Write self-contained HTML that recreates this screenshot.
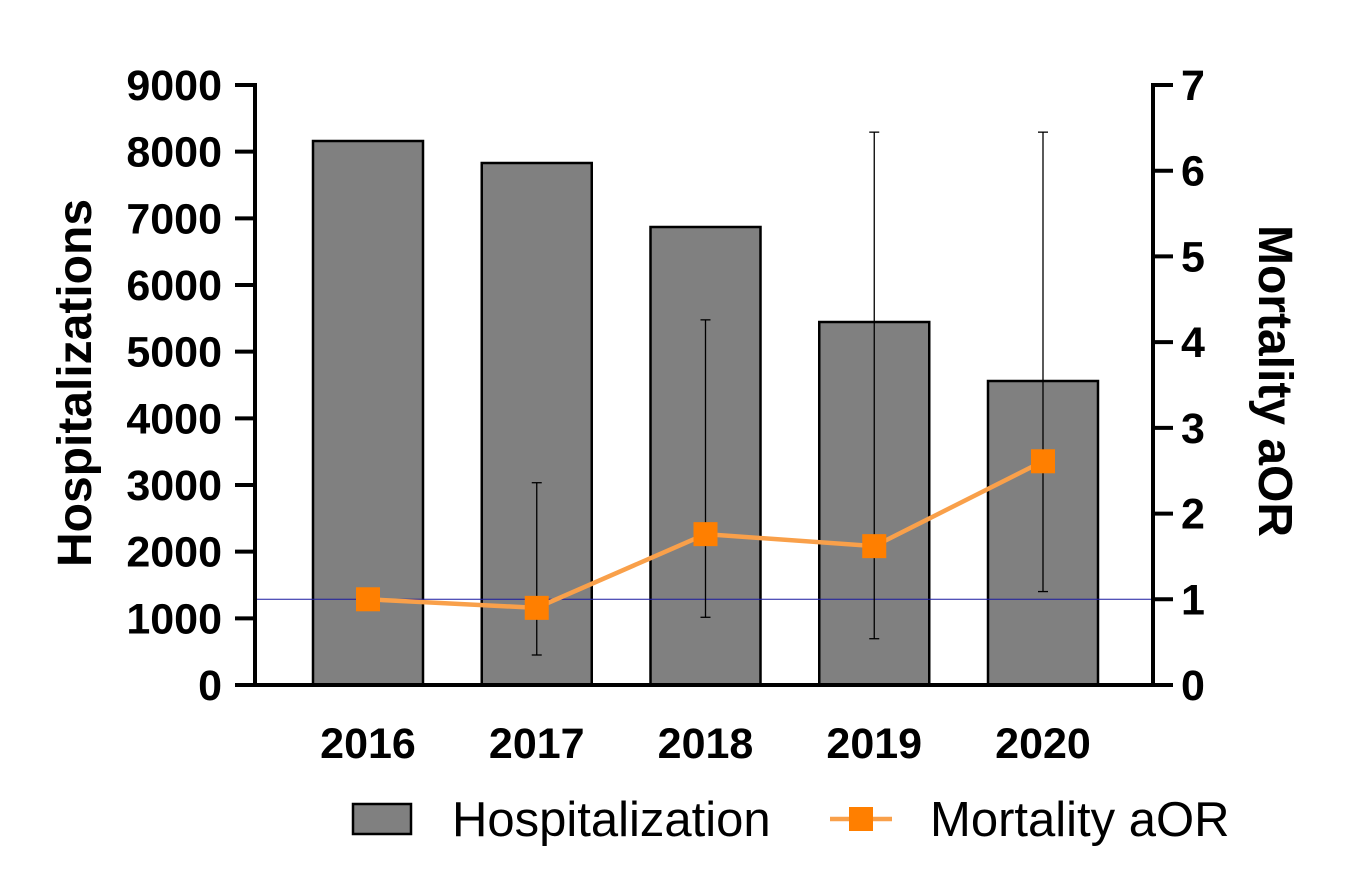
<!DOCTYPE html>
<html><head><meta charset="utf-8"><style>
body{margin:0;background:#fff;width:1350px;height:890px;overflow:hidden}
text{font-family:"Liberation Sans",Arial,sans-serif;fill:#000}
</style></head><body>
<svg id="chart" width="1350" height="890" xmlns="http://www.w3.org/2000/svg"></svg>
<script>
const categories=["2016","2017","2018","2019","2020"];
const hospitalizations=[8160,7830,6870,5445,4560];
const aor=[1.0,0.9,1.76,1.62,2.61];
const aorLow=[1.0,0.35,0.79,0.54,1.09];
const aorHigh=[1.0,2.36,4.26,6.45,6.45];
const leftTicks=[0,1000,2000,3000,4000,5000,6000,7000,8000,9000];
const rightTicks=[0,1,2,3,4,5,6,7];
const NS="http://www.w3.org/2000/svg";
const svg=document.getElementById('chart');
const X0=255,X1=1153,Y0=685,Y1=85;
const yL=v=>Y0-(v/9000)*(Y0-Y1);
const yR=v=>Y0-(v/7)*(Y0-Y1);
const xC=i=>368+i*168.75;
function mk(tag,attrs,parent){const e=document.createElementNS(NS,tag);for(const k in attrs)e.setAttribute(k,attrs[k]);(parent||svg).appendChild(e);return e;}
categories.forEach((c,i)=>{
 const b=mk('rect',{x:xC(i)-55,y:yL(hospitalizations[i]),width:110,height:Y0-yL(hospitalizations[i]),fill:'#808080',stroke:'#000','stroke-width':2.5});
 
 
 const t=mk('text',{x:xC(i),y:758,'text-anchor':'middle','font-size':43,'font-weight':'bold'});
 t.textContent=c;
 
 
});
const ref=mk('line',{x1:X0,x2:X1,y1:yR(1),y2:yR(1),stroke:'#1a1aa0','stroke-width':1});


categories.forEach((c,i)=>{
 if(aorHigh[i]===aorLow[i])return;
 const g=mk('g',{stroke:'#000','stroke-width':1.3});
 
 
 mk('line',{x1:xC(i),x2:xC(i),y1:yR(aorHigh[i]),y2:yR(aorLow[i])},g);
 mk('line',{x1:xC(i)-5,x2:xC(i)+5,y1:yR(aorHigh[i]),y2:yR(aorHigh[i])},g);
 mk('line',{x1:xC(i)-5,x2:xC(i)+5,y1:yR(aorLow[i]),y2:yR(aorLow[i])},g);
});
const pl=mk('polyline',{points:aor.map((v,i)=>xC(i)+','+yR(v)).join(' '),fill:'none',stroke:'#f9a04a','stroke-width':4.5});


categories.forEach((c,i)=>{
 const m=mk('rect',{x:xC(i)-12,y:yR(aor[i])-12,width:24,height:24,fill:'#ff7f00'});
 
 
});
const ax=mk('g',{stroke:'#000','stroke-width':4,fill:'none'});


mk('line',{x1:X0,x2:X0,y1:Y1-2,y2:Y0+2},ax);
mk('line',{x1:X1,x2:X1,y1:Y1-2,y2:Y0+2},ax);
mk('line',{x1:X0-2,x2:X1+2,y1:Y0,y2:Y0},ax);
leftTicks.forEach(v=>{
 mk('line',{x1:X0-20,x2:X0,y1:yL(v),y2:yL(v)},ax);
 const t=mk('text',{x:X0-33,y:yL(v)+15,'text-anchor':'end','font-size':43,'font-weight':'bold'});
 t.textContent=v;
 
 
});
rightTicks.forEach(v=>{
 mk('line',{x1:X1,x2:X1+20,y1:yR(v),y2:yR(v)},ax);
 const t=mk('text',{x:X1+28,y:yR(v)+15,'text-anchor':'start','font-size':43,'font-weight':'bold'});
 t.textContent=v;
 
 
});
</script>
<svg style="position:absolute;left:0;top:0" width="1350" height="890" xmlns="http://www.w3.org/2000/svg">
<text transform="translate(91,383) rotate(-90)" text-anchor="middle" font-size="48" font-weight="bold">Hospitalizations</text>
<text transform="translate(1259,381) rotate(90)" text-anchor="middle" font-size="48" font-weight="bold">Mortality aOR</text>
<g>
<rect x="353" y="804" width="58" height="30" fill="#808080" stroke="#000" stroke-width="2.5"/>
<text x="452" y="836" font-size="49">Hospitalization</text>
<line x1="830" x2="892" y1="819" y2="819" stroke="#f9a04a" stroke-width="4.5"/>
<rect x="849" y="807" width="24" height="24" fill="#ff7f00"/>
<text x="930" y="836" font-size="49">Mortality aOR</text>
</g>
</svg>
</body></html>
